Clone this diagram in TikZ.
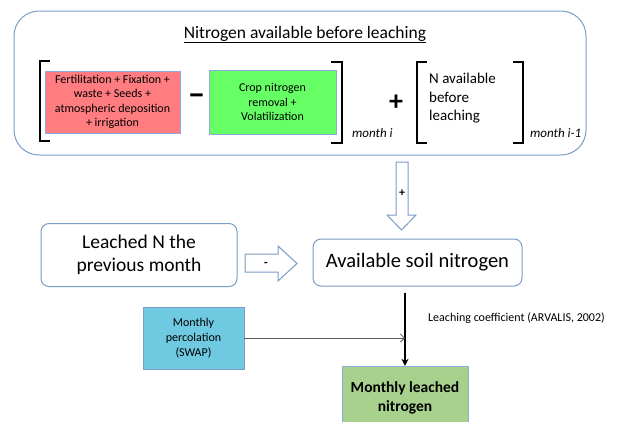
\documentclass[tikz,border=0pt]{standalone}
\usepackage{fontspec}
\setmainfont{Carlito}
\usetikzlibrary{arrows.meta}
\usetikzlibrary{calc}

\definecolor{boxline}{HTML}{7A9CC6}
\definecolor{flatline}{HTML}{8EA9DB}
\definecolor{redfill}{HTML}{FF7C80}
\definecolor{greenfill}{HTML}{66FF66}
\definecolor{bluefill}{HTML}{6FC9E0}
\definecolor{leachfill}{HTML}{A9D18E}
\definecolor{thinline}{HTML}{595959}

\begin{document}
\begin{tikzpicture}
	[x=1pt, y=-1pt,
	roundbox/.style = {draw=boxline, line width=1pt, rounded corners=8pt, fill=white, inner sep=0pt, align=center},
	flatbox/.style = {draw=flatline, line width=0.9pt, inner sep=0pt, align=center},
	bracket/.style = {line width=1.6pt},
	blockarrow/.style = {draw=boxline, line width=1pt, fill=white, line join=miter},
	sign/.style = {inner sep=0pt, font=\bfseries\fontsize{12}{12}\selectfont}
	]
	\useasboundingbox (0,0) rectangle (618,421);

	\draw[draw=boxline, line width=1pt, rounded corners=25pt] (14,11) rectangle (586,155);
	\node[anchor=base] (title) at (305,38) {\fontsize{17.5}{21}\selectfont\underline{Nitrogen available before leaching}};

	\node[flatbox, fill=redfill, minimum width=135, minimum height=62, font=\fontsize{12}{14.5}\selectfont] (inputs) at (112.5,102) {Fertilitation + Fixation +\\waste + Seeds +\\atmospheric deposition\\+ irrigation};
	\node[flatbox, fill=greenfill, minimum width=127, minimum height=64, font=\fontsize{12}{14.5}\selectfont] (removal) at (272.5,102) {Crop nitrogen\\removal +\\Volatilization};
	\node[inner sep=0pt, font=\bfseries\fontsize{32}{32}\selectfont] (minus) at (196.5,100) {−};
	\node[inner sep=0pt, font=\bfseries\fontsize{28}{28}\selectfont] (plus) at (396,103) {+};

	\draw[bracket] (50,61) -- (40,61) -- (40,141) -- (50,141);
	\draw[bracket] (331,62) -- (342,62) -- (342,143) -- (331,143);
	\draw[bracket] (427,62) -- (417,62) -- (417,143) -- (427,143);
	\draw[bracket] (513,62) -- (523,62) -- (523,143) -- (513,143);

	\node[anchor=base west, inner sep=0pt, font=\itshape\fontsize{13}{13}\selectfont] (monthi) at (352,137) {month i};
	\node[anchor=base west, inner sep=0pt, font=\itshape\fontsize{13}{13}\selectfont] (monthprev) at (530,137) {month i-1};
	\node[anchor=north west, inner sep=0pt, align=left, font=\fontsize{15}{18.5}\selectfont] (previous) at (429,73) {N available\\before\\leaching};

	\draw[blockarrow] (396,162) -- (408,162) -- (408,215) -- (416,215) -- (401.5,230) -- (387,215) -- (396,215) -- cycle;
	\node[sign] (plussign) at (402,193) {+};

	\node[roundbox, minimum width=196, minimum height=63, font=\fontsize{19.5}{23}\selectfont] (leachedprev) at (139,255) {Leached N the\\previous month};
	\node[roundbox, minimum width=209, minimum height=47, font=\fontsize{20.5}{24}\selectfont] (avail) at (417.5,262.5) {Available soil nitrogen};

	\draw[blockarrow] (245,254) -- (278,254) -- (278,246) -- (297,263.5) -- (278,281) -- (278,272) -- (245,272) -- cycle;
	\node[sign] (minussign) at (266,264) {-};

	\node[flatbox, draw=boxline, fill=bluefill, minimum width=101, minimum height=62, font=\fontsize{12}{15}\selectfont] (perc) at (193.5,338) {Monthly\\percolation\\(SWAP)};
	\draw[draw=flatline, line width=0.9pt, fill=leachfill] (342,366) rectangle (468,440);
	\node[inner sep=0pt, align=center, minimum width=126, minimum height=63, font=\bfseries\fontsize{15.5}{19}\selectfont] (leached) at (405,397.5) {Monthly leached\\nitrogen};

	\draw[-{Stealth[length=7pt,width=7pt]}, line width=1.4pt, shorten <=6pt] (avail.south -| leached.north) -- (leached.north);
	\draw[-{Straight Barb[length=4pt,width=8pt]}, draw=thinline, line width=0.8pt] (perc.east) -- (perc.east -| leached.north);
	\node[anchor=west, inner sep=0pt, font=\fontsize{12}{12}\selectfont] (coef) at (428,318) {Leaching coefficient (ARVALIS, 2002)};
\end{tikzpicture}
\end{document}
